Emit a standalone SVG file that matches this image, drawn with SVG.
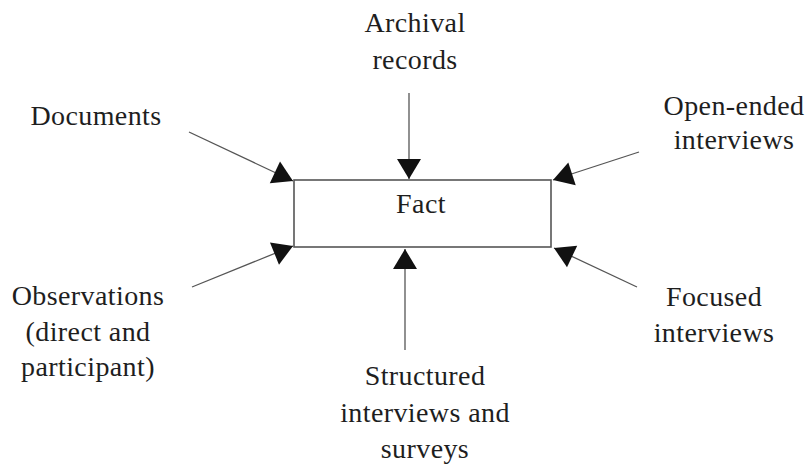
<svg xmlns="http://www.w3.org/2000/svg" width="809" height="466" viewBox="0 0 809 466">
<style>
text{font-family:"Liberation Serif","Times New Roman",serif;font-size:28px;letter-spacing:0.4px;fill:#1e1e1e;text-anchor:middle}
.c line{stroke:#555;stroke-width:1.3;fill:none;marker-end:url(#ah)}
.box{fill:#fff;stroke:#555;stroke-width:1.6}
</style>
<defs>
<marker id="ah" markerUnits="userSpaceOnUse" markerWidth="24" markerHeight="26" refX="20" refY="12" orient="auto" viewBox="0 0 24 24" overflow="visible">
<path d="M0,0 L20,12 L0,24 Z" fill="#111"/>
</marker>
</defs>
<rect width="809" height="466" fill="#fff"/>
<g id="fact">
<rect class="box" x="294" y="180" width="257" height="67"/>
<text x="421" y="213">Fact</text>
</g>
<g id="documents"><text x="96" y="125">Documents</text></g>
<g id="archival"><text x="415" y="32">Archival</text><text x="415" y="69">records</text></g>
<g id="open-ended"><text x="734" y="115">Open-ended</text><text x="734" y="149">interviews</text></g>
<g id="observations"><text x="88" y="305">Observations</text><text x="88" y="341">(direct and</text><text x="88" y="376">participant)</text></g>
<g id="structured"><text x="425" y="385">Structured</text><text x="425" y="422">interviews and</text><text x="425" y="458">surveys</text></g>
<g id="focused"><text x="714" y="306">Focused</text><text x="714" y="342">interviews</text></g>
<g class="c" id="connectors">
<line x1="189" y1="132" x2="293" y2="181"/>
<line x1="409" y1="93" x2="409" y2="179"/>
<line x1="639" y1="152" x2="553" y2="180"/>
<line x1="192" y1="287" x2="293" y2="246"/>
<line x1="405" y1="350" x2="405" y2="249"/>
<line x1="637" y1="287" x2="554" y2="248"/>
</g>
</svg>
